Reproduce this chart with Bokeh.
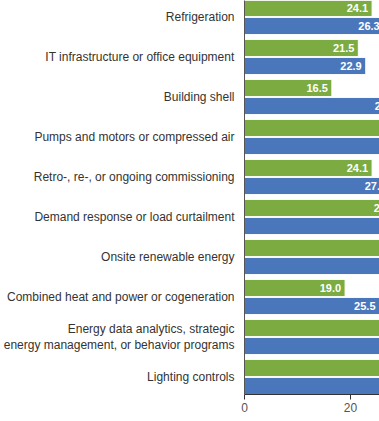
from bokeh.plotting import figure
from bokeh.models import ColumnDataSource, Range1d, FixedTicker
from bokeh.transform import dodge
from bokeh.core.properties import value
from bokeh.embed import file_html
from bokeh.resources import INLINE

categories = [
    "Refrigeration",
    "IT infrastructure or office equipment",
    "Building shell",
    "Pumps and motors or compressed air",
    "Retro-, re-, or ongoing commissioning",
    "Demand response or load curtailment",
    "Onsite renewable energy",
    "Combined heat and power or cogeneration",
    "Energy data analytics, strategic\nenergy management, or behavior programs",
    "Lighting controls",
]
series_a = [24.1, 21.5, 16.5, 31.6, 24.1, 29.2, 31.8, 19.0, 33.6, 36.2]
series_b = [26.3, 22.9, 29.4, 33.8, 27.5, 32.4, 34.0, 25.5, 36.8, 39.5]
x_ticks = [0, 20, 40, 60]

GREEN = "#7cab42"
BLUE = "#4a77bb"

pos = list(range(len(categories)))
src = ColumnDataSource(dict(
    pos=pos,
    a=series_a,
    b=series_b,
    a_lbl=[f"{v:.1f}" for v in series_a],
    b_lbl=[f"{v:.1f}" for v in series_b],
))

p = figure(
    width=379, height=421,
    output_backend="svg", toolbar_location=None,
    x_range=Range1d(0, 25.5),
    y_range=Range1d(start=9.4375, end=-0.4125),
    min_border_left=243, min_border_right=0, min_border_top=0, min_border_bottom=27,
)
p.outline_line_color = None
p.xgrid.visible = False
p.ygrid.visible = False
p.background_fill_color = "white"

p.hbar(y=dodge("pos", -0.225), right="a", left=0, height=0.43, source=src,
       fill_color=GREEN, line_color="white", line_width=1)
p.hbar(y=dodge("pos", 0.225), right="b", left=0, height=0.43, source=src,
       fill_color=BLUE, line_color="white", line_width=1)

for col, lbl, off in (("a", "a_lbl", -0.225), ("b", "b_lbl", 0.225)):
    p.text(x=col, y=dodge("pos", off), text=lbl, source=src,
           text_align="right", text_baseline="middle", x_offset=-4,
           text_color="white", text_font=value("Liberation Sans"),
           text_font_style="bold", text_font_size="11px")

# y axis
ya = p.yaxis[0]
ya.ticker = FixedTicker(ticks=pos)
ya.major_label_overrides = {i: c for i, c in zip(pos, categories)}
ya.major_tick_line_color = None
ya.minor_tick_line_color = None
ya.axis_line_color = "#555555"
ya.major_label_text_font = "Liberation Sans"
ya.major_label_text_font_size = "12px"
ya.major_label_text_color = "#333333"
ya.major_label_standoff = 4

# x axis
xa = p.xaxis[0]
xa.ticker = FixedTicker(ticks=x_ticks)
xa.minor_tick_line_color = None
xa.axis_line_color = "#333333"
xa.major_tick_line_color = "#333333"
xa.major_tick_out = 5
xa.major_tick_in = 0
xa.major_label_text_font = "Liberation Sans"
xa.major_label_text_font_size = "12px"
xa.major_label_text_color = "#555555"
xa.major_label_standoff = 3

open("out.html", "w").write(file_html(p, INLINE))
